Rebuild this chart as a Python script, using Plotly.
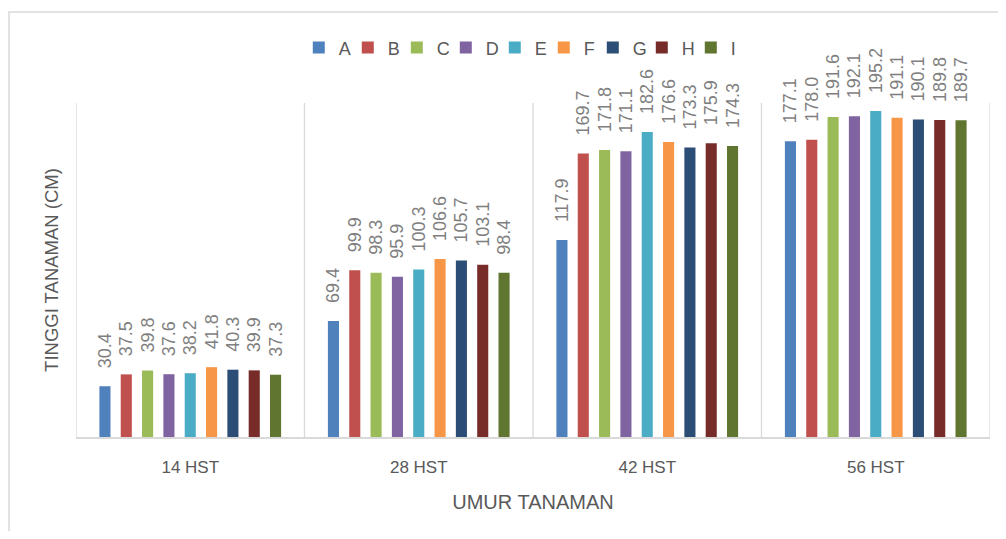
import plotly.graph_objects as go

categories = ["14 HST", "28 HST", "42 HST", "56 HST"]
series_names = ["A", "B", "C", "D", "E", "F", "G", "H", "I"]
A = [30.4, 69.4, 117.9, 177.1]
B = [37.5, 99.9, 169.7, 178.0]
C = [39.8, 98.3, 171.8, 191.6]
D = [37.6, 95.9, 171.1, 192.1]
E = [38.2, 100.3, 182.6, 195.2]
F = [41.8, 106.6, 176.6, 191.1]
G = [40.3, 105.7, 173.3, 190.1]
H = [39.9, 103.1, 175.9, 189.8]
I = [37.3, 98.4, 174.3, 189.7]
series_values = [A, B, C, D, E, F, G, H, I]
colors = ["#4F81BD", "#C0504D", "#9BBB59", "#8064A2", "#4BACC6",
          "#F79646", "#2C4D75", "#772C2A", "#5F7530"]

FONT = "Liberation Sans"
PAD = "\u00a0\u00a0\u00a0"  # gap between bar end and its label
x_idx = list(range(len(categories)))

fig = go.Figure()
for name, vals, col in zip(series_names, series_values, colors):
    fig.add_trace(go.Bar(
        name=name, x=x_idx, y=vals,
        marker=dict(color=col, line=dict(width=0)),
        text=[PAD + f"{v:.1f}" for v in vals],
        textposition="outside", textangle=-90,
        textfont=dict(family=FONT, size=18, color="#7F7F7F"),
        constraintext="none", cliponaxis=False,
    ))

shapes = []
for k in range(len(categories) + 1):
    shapes.append(dict(type="line", xref="x", yref="paper",
                       x0=k - 0.5, x1=k - 0.5, y0=0, y1=1,
                       line=dict(color="#D9D9D9", width=1.3), layer="below"))
# outer chart border
shapes.append(dict(type="rect", xref="paper", yref="paper",
                   x0=-0.0733, x1=1.05, y0=-0.5, y1=1.2725,
                   line=dict(color="#D9D9D9", width=1.5), layer="below"))

fig.update_layout(
    width=990, height=523,
    margin=dict(l=68, r=8, t=95, b=94, autoexpand=False),
    paper_bgcolor="white", plot_bgcolor="white",
    barmode="group", bargap=0.16, bargroupgap=0.48,
    shapes=shapes,
    showlegend=True,
    legend=dict(orientation="h", x=0.485, xanchor="center",
                y=1.165, yanchor="middle", itemwidth=30, entrywidth=4,
                font=dict(family=FONT, size=18, color="#595959"),
                traceorder="normal", tracegroupgap=0),
    font=dict(family=FONT, color="#595959"),
)
fig.update_xaxes(
    tickmode="array", tickvals=x_idx, ticktext=categories,
    range=[-0.5, len(categories) - 0.5], automargin=False,
    showgrid=False, zeroline=False,
    showline=True, linecolor="#D9D9D9", linewidth=2,
    ticks="", ticklabelstandoff=14,
    tickfont=dict(family=FONT, size=17, color="#595959"),
    title=dict(text="UMUR TANAMAN", standoff=19,
               font=dict(family=FONT, size=20, color="#595959")),
)
fig.update_yaxes(
    range=[0, 200], showgrid=False, zeroline=False, showline=False,
    showticklabels=False, ticks="", automargin=False,
    title=dict(text="TINGGI TANAMAN (CM)", standoff=11,
               font=dict(family=FONT, size=18.5, color="#595959")),
)

fig.write_html("out.html")
